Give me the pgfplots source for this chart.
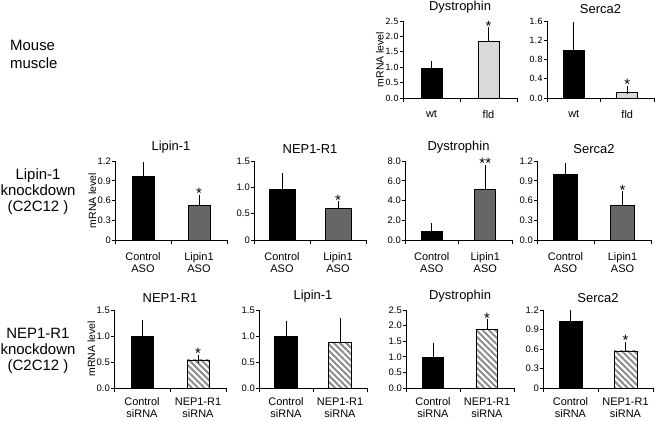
\documentclass[border=0pt]{standalone}
\usepackage{fontspec}
\setmainfont{Liberation Sans}
\newfontfamily\verd{DejaVu Sans}
\usepackage{pgfplots}
\pgfplotsset{compat=1.18}
\usetikzlibrary{patterns.meta}
\definecolor{lightbar}{HTML}{D9D9D9}
\definecolor{darkbar}{HTML}{666666}
\definecolor{hatchc}{HTML}{8C8C8C}
\pgfplotsset{
  panel/.style={
    scale only axis, anchor=south west,
    axis lines*=left, axis line style={-,line width=0.7bp},
    xmin=0.5, xmax=2.5, ymin=0,
    xtick={1,2}, major x tick style={draw=none},
    minor xtick={0.5,1.5,2.5},
    tick align=outside, tick style={black,line width=0.7bp},
    major tick length=3bp, minor tick length=4bp,
    yticklabel style={font=\fontsize{9.5}{10}\selectfont, inner sep=1bp},
    xticklabel style={font=\fontsize{11}{12.5}\selectfont, align=center, inner sep=1bp, yshift=-8bp},
    title style={font=\fontsize{13}{15}\selectfont, yshift=-2bp},
    ylabel style={font=\fontsize{10.5}{11}\selectfont, yshift=-3bp},
    clip=false,
  },
  bottomrow/.style={xticklabel style={font=\fontsize{11}{12}\selectfont, yshift=2.5bp}},
  errs/.style={
    /pgfplots/error bars/y dir=plus, /pgfplots/error bars/y explicit,
    /pgfplots/error bars/error bar style={black,line width=0.7bp},
    /pgfplots/error bars/error mark options={black, mark size=4bp, line width=0.7bp}},
  ctrl/.style={ybar, bar shift=0pt, fill=black, draw=black, line width=0.7bp, errs},
  light/.style={ybar, bar shift=0pt, fill=lightbar, draw=black, line width=0.7bp, errs},
  dark/.style={ybar, bar shift=0pt, fill=darkbar, draw=black, line width=0.7bp, errs},
  hatch/.style={ybar, bar shift=0pt, fill=white, draw=black, line width=0.7bp,
    postaction={pattern={Lines[angle=-45,distance=4.4bp,line width=2bp]}, pattern color=hatchc}, errs},
}
\newcommand{\sigstar}[3][*]{\node[anchor=south, font=\fontsize{15}{15}\selectfont, inner sep=0pt, yshift=0bp] at (axis cs:#2,#3) {#1};}
\begin{document}
\begin{tikzpicture}[x=1bp,y=1bp]
\useasboundingbox (0,0) rectangle (656,420);
% row labels
\node[anchor=west, align=left, font=\fontsize{15}{18}\selectfont, inner sep=0pt] at (10,366) {Mouse\\muscle};
\node[align=center, font=\fontsize{15}{16}\selectfont, inner sep=0pt] at (38,228) {Lipin-1\\knockdown\\(C2C12 )};
\node[align=center, font=\fontsize{15}{16}\selectfont, inner sep=0pt] at (38,69) {NEP1-R1\\knockdown\\(C2C12 )};

% ===== Row 1 =====
\begin{axis}[panel, at={(403bp,322bp)}, width=114bp, height=77bp,
  yticklabel style={font=\verd\fontsize{8.5}{10}\selectfont},
  ymax=2.5, ytick={0,0.5,1,1.5,2,2.5}, yticklabels={0.0,0.5,1.0,1.5,2.0,2.5},
  xticklabels={wt,fld}, title={Dystrophin}, ylabel={mRNA level}]
\addplot[ctrl, bar width=21bp] coordinates {(1,0.97) +- (0,0.10)};
\addplot[light, bar width=21bp] coordinates {(2,1.85) +- (0,0.31)};
\sigstar{2}{2.16}
\end{axis}
\begin{axis}[panel, at={(547bp,322bp)}, width=107bp, height=77bp,
  yticklabel style={font=\verd\fontsize{8.5}{10}\selectfont},
  ymax=1.6, ytick={0,0.4,0.8,1.2,1.6}, yticklabels={0.0,0.4,0.8,1.2,1.6},
  xticklabels={wt,fld}, title={Serca2}]
\addplot[ctrl, bar width=21bp] coordinates {(1,0.98) +- (0,0.51)};
\addplot[light, bar width=21bp] coordinates {(2,0.12) +- (0,0.05)};
\sigstar{2}{0.17}
\end{axis}

% ===== Row 2 =====
\begin{axis}[panel, at={(115bp,180bp)}, width=112bp, height=79bp,
  ymax=1.2, ytick={0,0.3,0.6,0.9,1.2}, yticklabels={0,0.3,0.6,0.9,1.2},
  xticklabels={{Control\\ASO},{Lipin1\\ASO}}, title={Lipin-1}, ylabel={mRNA level}]
\addplot[ctrl, bar width=22bp] coordinates {(1,0.96) +- (0,0.17)};
\addplot[dark, bar width=22bp] coordinates {(2,0.52) +- (0,0.11)};
\sigstar{2}{0.63}
\end{axis}
\begin{axis}[panel, at={(254bp,180bp)}, width=112bp, height=79bp,
  ymax=1.5, ytick={0,0.5,1,1.5}, yticklabels={0,0.5,1.0,1.5},
  xticklabels={{Control\\ASO},{Lipin1\\ASO}}, title={NEP1-R1}]
\addplot[ctrl, bar width=26bp] coordinates {(1,0.96) +- (0,0.23)};
\addplot[dark, bar width=26bp] coordinates {(2,0.60) +- (0,0.06)};
\sigstar{2}{0.66}
\end{axis}
\begin{axis}[panel, at={(405bp,180bp)}, width=107bp, height=79bp,
  ymax=8, ytick={0,2,4,6,8}, yticklabels={0.0,2.0,4.0,6.0,8.0},
  xticklabels={{Control\\ASO},{Lipin1\\ASO}}, title={Dystrophin}]
\addplot[ctrl, bar width=21bp] coordinates {(1,0.86) +- (0,0.42)};
\addplot[dark, bar width=21bp] coordinates {(2,5.14) +- (0,2.10)};
\sigstar[**]{2}{7.24}
\end{axis}
\begin{axis}[panel, at={(537bp,180bp)}, width=114bp, height=79bp,
  ymax=1.2, ytick={0,0.3,0.6,0.9,1.2}, yticklabels={0.0,0.3,0.6,0.9,1.2},
  xticklabels={{Control\\ASO},{Lipin1\\ASO}}, title={Serca2}]
\addplot[ctrl, bar width=24bp] coordinates {(1,0.99) +- (0,0.12)};
\addplot[dark, bar width=24bp] coordinates {(2,0.53) +- (0,0.15)};
\sigstar{2}{0.68}
\end{axis}

% ===== Row 3 =====
\begin{axis}[panel, bottomrow, at={(114bp,32bp)}, width=112bp, height=78bp,
  ymax=1.5, ytick={0,0.5,1,1.5}, yticklabels={0.0,0.5,1.0,1.5},
  xticklabels={{Control\\siRNA},{NEP1-R1\\siRNA}}, title={NEP1-R1}, ylabel={mRNA level}]
\addplot[ctrl, bar width=22bp] coordinates {(1,1.00) +- (0,0.24)};
\addplot[hatch, bar width=22bp] coordinates {(2,0.54) +- (0,0.02)};
\sigstar{2}{0.56}
\end{axis}
\begin{axis}[panel, bottomrow, at={(259bp,32bp)}, width=108bp, height=78bp,
  ymax=1.5, ytick={0,0.5,1,1.5}, yticklabels={0.0,0.5,1.0,1.5},
  xticklabels={{Control\\siRNA},{NEP1-R1\\siRNA}}, title={Lipin-1}]
\addplot[ctrl, bar width=23bp] coordinates {(1,0.99) +- (0,0.22)};
\addplot[hatch, bar width=23bp] coordinates {(2,0.88) +- (0,0.39)};
\end{axis}
\begin{axis}[panel, bottomrow, at={(406bp,32bp)}, width=108bp, height=78bp,
  ymax=2.5, ytick={0,0.5,1,1.5,2,2.5}, yticklabels={0.0,0.5,1.0,1.5,2.0,2.5},
  xticklabels={{Control\\siRNA},{NEP1-R1\\siRNA}}, title={Dystrophin}]
\addplot[ctrl, bar width=21bp] coordinates {(1,0.98) +- (0,0.33)};
\addplot[hatch, bar width=21bp] coordinates {(2,1.88) +- (0,0.19)};
\sigstar{2}{2.07}
\end{axis}
\begin{axis}[panel, bottomrow, at={(543bp,32bp)}, width=110bp, height=78bp,
  ymax=1.2, ytick={0,0.3,0.6,0.9,1.2}, yticklabels={0,0.3,0.6,0.9,1.2},
  xticklabels={{Control\\siRNA},{NEP1-R1\\siRNA}}, title={Serca2}]
\addplot[ctrl, bar width=23bp] coordinates {(1,1.02) +- (0,0.12)};
\addplot[hatch, bar width=23bp] coordinates {(2,0.57) +- (0,0.08)};
\sigstar{2}{0.65}
\end{axis}
\end{tikzpicture}
\end{document}
